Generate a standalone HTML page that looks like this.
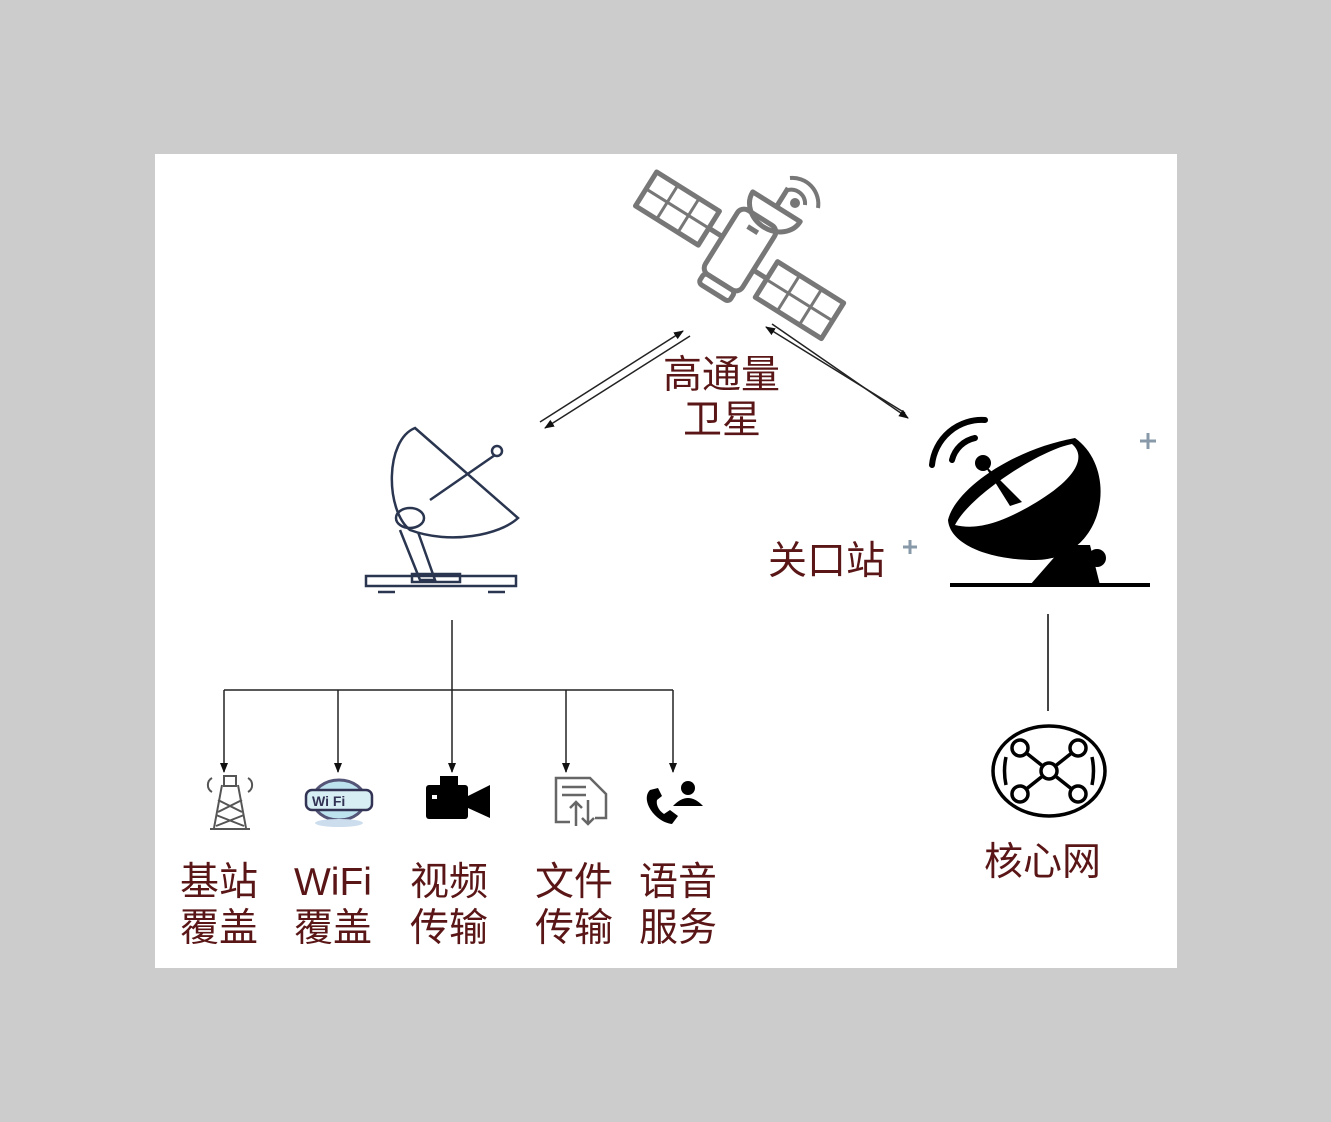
<!DOCTYPE html>
<html><head><meta charset="utf-8"><style>
body{margin:0;background:#cccccc;width:1331px;height:1122px;overflow:hidden;font-family:"Liberation Sans","Noto Sans CJK SC",sans-serif}
.t{position:absolute;color:#5a1616;font-size:39px;line-height:46px;font-family:"Liberation Sans","Noto Sans CJK SC",sans-serif;white-space:nowrap}
</style></head><body>
<svg width="1331" height="1122" style="position:absolute;left:0;top:0">
<defs><marker id="a" markerWidth="10" markerHeight="10" refX="9" refY="5" orient="auto" markerUnits="userSpaceOnUse"><path d="M0,1 L10,5 L0,9z" fill="#111"/></marker></defs>
<rect x="155" y="154" width="1022" height="814" fill="#fff"/>
<!-- satellite -->
<g stroke="#777" stroke-width="5" fill="none" stroke-linejoin="round">
<g transform="translate(740,250) rotate(32)">
<rect x="-22" y="-38" width="44" height="76" rx="8"/>
<rect x="-18" y="38" width="36" height="12" rx="4"/>
<line x1="-6" y1="-24" x2="6" y2="-24"/>
<rect x="-112" y="-22" width="74" height="40"/>
<g stroke-width="3"><line x1="-87" y1="-22" x2="-87" y2="18"/><line x1="-62" y1="-22" x2="-62" y2="18"/><line x1="-112" y1="-2" x2="-38" y2="-2"/>
<line x1="64" y1="-10" x2="64" y2="32"/><line x1="90" y1="-10" x2="90" y2="32"/><line x1="38" y1="11" x2="116" y2="11"/></g>
<line x1="-38" y1="-2" x2="-22" y2="-2"/>
<rect x="38" y="-10" width="78" height="42"/>
<line x1="22" y1="10" x2="38" y2="10"/>
<path d="M-20,-56 A28,24 0 0 0 36,-56 Z"/>
<line x1="8" y1="-56" x2="8" y2="-78"/>
</g>
<path d="M788,190 A14,14 0 0 1 805,205" stroke-width="4"/>
<path d="M790,178 A26,26 0 0 1 818,208" stroke-width="4"/>
</g>
<circle cx="795" cy="203" r="5" fill="#777"/>
<!-- double arrows -->
<g stroke="#222" stroke-width="1.5">
<line x1="540" y1="422" x2="683" y2="331" marker-end="url(#a)"/>
<line x1="690" y1="336" x2="545" y2="428" marker-end="url(#a)"/>
<line x1="905" y1="413" x2="766" y2="327" marker-end="url(#a)"/>
<line x1="772" y1="324" x2="908" y2="418" marker-end="url(#a)"/>
</g>
<!-- left dish -->
<g stroke="#2a3550" stroke-width="2.5" fill="none">
<path d="M415,428 C385,440 385,510 410,530 C450,545 500,535 518,518 Z"/>
<line x1="430" y1="500" x2="495" y2="455"/>
<circle cx="497" cy="451" r="5"/>
<ellipse cx="410" cy="518" rx="14" ry="10"/>
<path d="M400,530 L420,580 L435,580 L418,532"/>
<rect x="366" y="576" width="150" height="10"/>
<rect x="412" y="574" width="48" height="8"/>
<line x1="378" y1="592" x2="395" y2="592"/><line x1="488" y1="592" x2="505" y2="592"/>
</g>
<!-- connectors bottom -->
<g stroke="#222" stroke-width="1.5" fill="none">
<line x1="452" y1="620" x2="452" y2="772" marker-end="url(#a)"/>
<line x1="224" y1="690" x2="673" y2="690"/>
<line x1="224" y1="690" x2="224" y2="772" marker-end="url(#a)"/>
<line x1="338" y1="690" x2="338" y2="772" marker-end="url(#a)"/>
<line x1="566" y1="690" x2="566" y2="772" marker-end="url(#a)"/>
<line x1="673" y1="690" x2="673" y2="772" marker-end="url(#a)"/>
</g>
<!-- icons -->
<g stroke="#555" stroke-width="2" fill="none"><path d="M222,785 L214,828 M238,785 L246,828 M218,800 L242,812 M242,800 L218,812 M216,815 L244,826 M244,815 L216,826"/><line x1="210" y1="829" x2="250" y2="829"/><path d="M212,778 A8,8 0 0 0 212,792 M248,778 A8,8 0 0 1 248,792"/><rect x="224" y="776" width="12" height="10"/></g>
<ellipse cx="339" cy="800" rx="26" ry="20" fill="#bde3ef" stroke="#557" stroke-width="3"/>
<rect x="306" y="790" width="66" height="20" rx="6" fill="#d8eef5" stroke="#335" stroke-width="2.5"/>
<text x="312" y="806" font-size="14" font-weight="bold" fill="#335" font-family="Liberation Sans">Wi Fi</text>
<ellipse cx="339" cy="823" rx="24" ry="4" fill="#cde"/>
<rect x="426" y="785" width="42" height="34" rx="3" fill="#000"/><rect x="440" y="776" width="18" height="10" fill="#000"/><path d="M468,796 L490,785 L490,818 L468,808Z" fill="#000"/><rect x="432" y="795" width="5" height="4" fill="#fff"/>
<g stroke="#666" stroke-width="2.5" fill="none"><path d="M570,822 L556,822 L556,778 L590,778 L606,794 L606,818 L595,818"/><line x1="562" y1="787" x2="586" y2="787"/><line x1="562" y1="795" x2="586" y2="795"/><path d="M576,826 L576,802 M570,808 L576,802 L582,808 M588,800 L588,824 M582,818 L588,824 L594,818"/></g>
<path d="M650,790 C640,800 655,822 672,824 L678,816 L670,810 L664,814 C658,810 656,804 657,800 L662,796 L658,788Z" fill="#000"/>
<circle cx="688" cy="788" r="7" fill="#000"/><path d="M673,806 Q688,790 703,806Z" fill="#000"/>
<!-- gateway dish -->
<g fill="#000">
<path d="M1075,438 C1120,470 1105,560 1035,560 C990,560 950,545 948,520 C955,490 1010,450 1075,438Z"/>
<path d="M1072,444 C1040,450 970,495 955,525 C975,530 1000,525 1040,500 C1080,475 1085,455 1072,444Z" fill="#fff"/>
<path d="M1030,585 L1065,545 L1090,545 L1100,585Z"/>
<circle cx="1097" cy="558" r="9"/>
<circle cx="983" cy="463" r="8"/>
<path d="M983,463 L1022,502 L1010,506Z"/>
</g>
<line x1="950" y1="585" x2="1150" y2="585" stroke="#000" stroke-width="4"/>
<g stroke="#000" stroke-width="6" fill="none" stroke-linecap="round"><path d="M932,465 A50,50 0 0 1 985,420"/><path d="M952,460 A30,30 0 0 1 975,438"/></g>
<g stroke="#8899aa" stroke-width="3"><line x1="1140" y1="441" x2="1156" y2="441"/><line x1="1148" y1="433" x2="1148" y2="449"/><line x1="903" y1="547" x2="917" y2="547"/><line x1="910" y1="540" x2="910" y2="554"/></g>
<line x1="1048" y1="614" x2="1048" y2="711" stroke="#444" stroke-width="2"/>
<!-- core net -->
<g stroke="#000" stroke-width="3.5" fill="none">
<ellipse cx="1049" cy="771" rx="56" ry="45"/>
<path d="M1020,748 L1078,794 M1078,748 L1020,794"/>
<path d="M1006,757 Q1003,771 1006,785 M1092,757 Q1095,771 1092,785"/>
</g>
<g fill="#fff" stroke="#000" stroke-width="3.5"><circle cx="1049" cy="771" r="8"/><circle cx="1020" cy="748" r="8"/><circle cx="1078" cy="748" r="8"/><circle cx="1020" cy="794" r="8"/><circle cx="1078" cy="794" r="8"/></g>
</svg>
<div class="t" style="left:663px;top:353px">高通量</div>
<div class="t" style="left:683px;top:398px">卫星</div>
<div class="t" style="left:768px;top:539px">关口站</div>
<div class="t" style="left:984px;top:840px">核心网</div>
<div class="t" style="left:180px;top:860px">基站<br>覆盖</div>
<div class="t" style="left:294px;top:860px">WiFi<br>覆盖</div>
<div class="t" style="left:410px;top:860px">视频<br>传输</div>
<div class="t" style="left:535px;top:860px">文件<br>传输</div>
<div class="t" style="left:639px;top:860px">语音<br>服务</div>
</body></html>
